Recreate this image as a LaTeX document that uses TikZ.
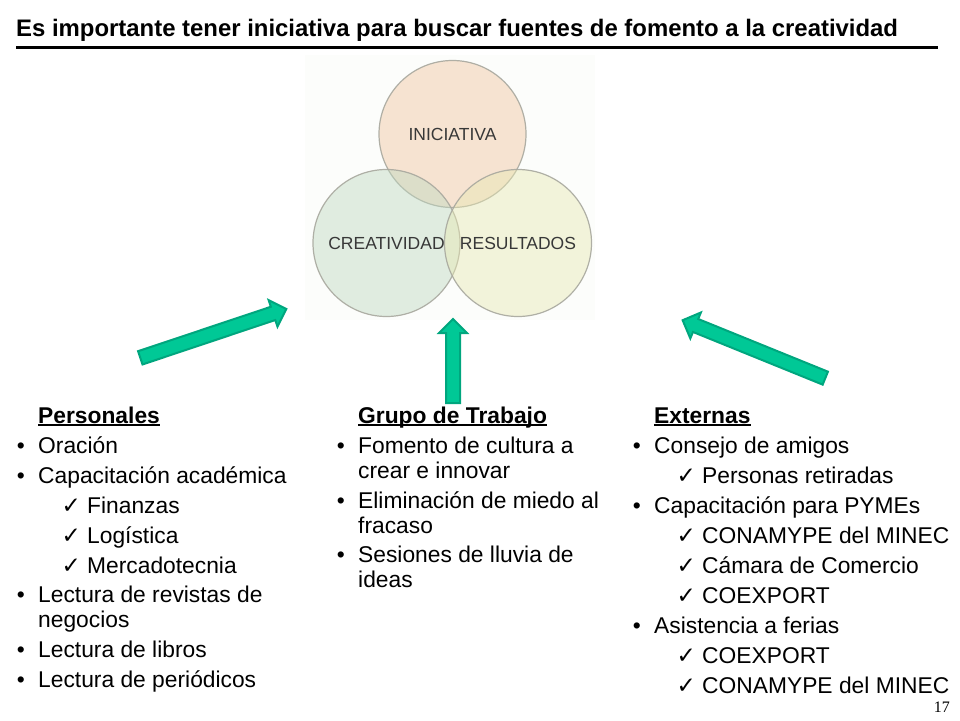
\documentclass[tikz,border=0pt]{standalone}
\usepackage{fontspec}
\setmainfont{Liberation Sans}
\newfontfamily\checkfont{DejaVu Sans}
\newfontfamily\pagefont{Liberation Serif}
\usetikzlibrary{shapes.arrows}
\definecolor{arrowfill}{HTML}{00C896}
\definecolor{arrowedge}{HTML}{00A67E}
\definecolor{ringedge}{HTML}{A8A89E}
\definecolor{ringtext}{HTML}{383838}
\definecolor{imageback}{HTML}{FCFDFB}
\newcommand{\headline}[1]{\setbox0=\hbox{#1}\rlap{\rule[-3pt]{\wd0}{1.6pt}}\box0}
\begin{document}
\begin{tikzpicture}
  [
    x=1pt, y=-1pt,
    ring/.style =
      {circle, draw=ringedge, line width=1.2pt, minimum size=147pt, inner sep=0pt, fill opacity=0.45, draw opacity=0.9},
    ringname/.style =
      {text=ringtext, inner sep=0pt, font=\fontsize{17.5}{20}\selectfont},
    bigarrow/.style =
      {shape=single arrow, draw=arrowedge, fill=arrowfill, line width=2pt, inner sep=0pt,
       minimum width=27pt, minimum height=154pt, single arrow head extend=7pt,
       single arrow head indent=0pt, text height=12pt, text depth=0pt, anchor=center},
    head/.style =
      {anchor=base west, inner sep=0pt, font=\fontsize{22.8}{24}\selectfont\bfseries},
    item/.style =
      {anchor=base west, inner sep=0pt, align=left, font=\fontsize{22.8}{24.5}\selectfont},
    dot/.style =
      {item, label={[inner sep=0pt, anchor=base east, xshift=-13pt, font=\fontsize{22.8}{24}\selectfont]base west:{\char"2022}}},
    dotlong/.style =
      {item, label={[inner sep=0pt, anchor=base east, xshift=-13pt, yshift=24.5pt, font=\fontsize{22.8}{24}\selectfont]base west:{\char"2022}}},
    tick/.style =
      {item, label={[inner sep=0pt, anchor=base east, xshift=-6pt]base west:{\checkfont\fontsize{23}{23}\selectfont\char"2713}}}
  ]
  \useasboundingbox (0,0) rectangle (960,720);

  % title
  \node [inner sep=0pt, anchor=base west, font=\fontsize{23.9}{24}\selectfont\bfseries] at (16,36) (title) {Es importante tener iniciativa para buscar fuentes de fomento a la creatividad};
  \draw [line width=3pt] (16,47) -- (938,47);

  % rings
  \fill [imageback] (305,55) rectangle (595,320);
  \node [ring, fill={rgb,255:red,240;green,196;blue,160}] at (452.5,134) (ini) {};
  \node [ring, fill={rgb,255:red,190;green,216;blue,192}] at (386.5,243) (cre) {};
  \node [ring, fill={rgb,255:red,232;green,232;blue,178}] at (518,243) (res) {};
  \node [ringname] at (ini.center) (tini) {INICIATIVA};
  \node [ringname] at (386.5,243) (tcre) {CREATIVIDAD};
  \node [ringname] at (518,243) (tres) {RESULTADOS};

  % arrows
  \node [bigarrow, rotate=18.5] at (210,334.5) (a1) {};
  \node [bigarrow, rotate=90, minimum height=84pt] at (453,364.5) (a2) {};
  \node [bigarrow, rotate=157.9] at (757.2,350.5) (a3) {};

  % left column
  \node [head] at (38,423) (h1) {\headline{Personales}};
  \node [dot]  at (38,453) (l1) {Oración};
  \node [dot]  at (38,483) (l2) {Capacitación académica};
  \node [tick] at (87,513) (l3) {Finanzas};
  \node [tick] at (87,543) (l4) {Logística};
  \node [tick] at (87,573) (l5) {Mercadotecnia};
  \node [dotlong] at (38,627) (l6) {Lectura de revistas de\\negocios};
  \node [dot]  at (38,657) (l7) {Lectura de libros};
  \node [dot]  at (38,687) (l8) {Lectura de periódicos};

  % middle column
  \node [head] at (358,423) (h2) {\headline{Grupo de Trabajo}};
  \node [dotlong] at (358,478) (m1) {Fomento de cultura a\\crear e innovar};
  \node [dotlong] at (358,533) (m2) {Eliminación de miedo al\\fracaso};
  \node [dotlong] at (358,587) (m3) {Sesiones de lluvia de\\ideas};

  % right column
  \node [head] at (654,423) (h3) {\headline{Externas}};
  \node [dot]  at (654,453) (r1) {Consejo de amigos};
  \node [tick] at (702,483) (r2) {Personas retiradas};
  \node [dot]  at (654,513) (r3) {Capacitación para PYMEs};
  \node [tick] at (702,543) (r4) {CONAMYPE del MINEC};
  \node [tick] at (702,573) (r5) {Cámara de Comercio};
  \node [tick] at (702,603) (r6) {COEXPORT};
  \node [dot]  at (654,633) (r7) {Asistencia a ferias};
  \node [tick] at (702,663) (r8) {COEXPORT};
  \node [tick] at (702,693) (r9) {CONAMYPE del MINEC};

  \node [inner sep=0pt, anchor=base east, font=\pagefont\fontsize{16}{16}\selectfont] at (950,712) (page) {17};
\end{tikzpicture}
\end{document}
